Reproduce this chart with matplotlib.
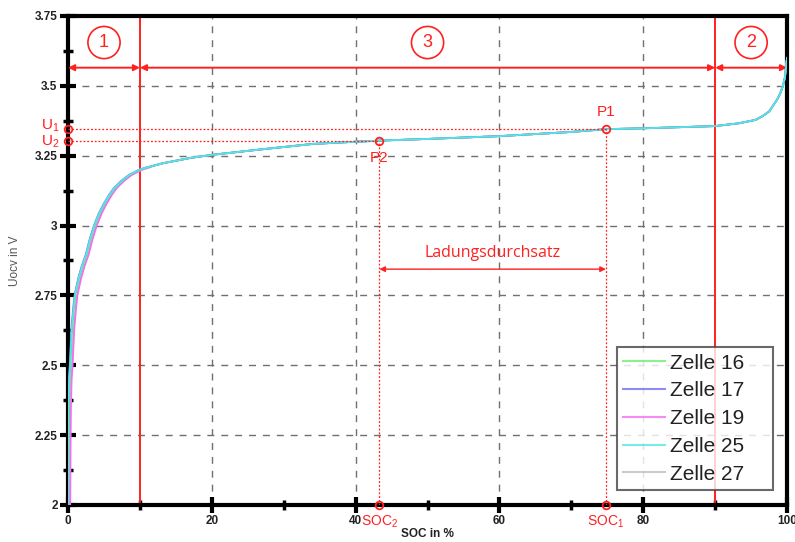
import matplotlib
matplotlib.use("Agg")
import matplotlib.pyplot as plt
from matplotlib.ticker import MultipleLocator, FixedLocator

# ---- data ----
soc = [0, 0.05, 0.1, 0.2, 0.33, 0.55, 0.8, 1.0, 1.5, 2.0, 2.55, 3.1, 3.7, 4.4,
       5.0, 5.8, 6.5, 7.5, 8.5, 10, 11, 12, 13.2, 15, 17, 20, 27, 34, 40, 43.3,
       50, 60, 70, 74.8, 80, 90, 93.3, 95.6, 96.5, 97.5, 98.6, 99.0, 99.4,
       99.7, 100]
ocv = [2.0, 2.2, 2.35, 2.45, 2.5, 2.625, 2.70, 2.75, 2.81, 2.855, 2.895, 2.95,
       3.0, 3.045, 3.075, 3.11, 3.135, 3.16, 3.18, 3.2, 3.208, 3.215, 3.223,
       3.232, 3.242, 3.253, 3.273, 3.292, 3.300, 3.304, 3.31, 3.32, 3.335,
       3.345, 3.348, 3.356, 3.366, 3.378, 3.39, 3.408, 3.45, 3.47, 3.497,
       3.53, 3.60]
cells = ["Zelle 16", "Zelle 17", "Zelle 19", "Zelle 25", "Zelle 27"]
soc_shift = [0.0, -0.1, 0.3, -0.05, 0.2]
cell_colors = ["#70ee70", "#6f6fee", "#f070f0", "#55e5e5", "#c0c0c0"]
cell_z = [4, 5, 3.5, 6, 3]

p1_soc, p1_u = 74.8, 3.345
p2_soc, p2_u = 43.3, 3.304
region_bounds = [10, 90]
region_labels = ["1", "3", "2"]
region_label_soc = [5, 50, 95]

x_ticks = [0, 20, 40, 60, 80, 100]
y_ticks = [2, 2.25, 2.5, 2.75, 3, 3.25, 3.5, 3.75]
y_tick_labels = ["2", "2.25", "2.5", "2.75", "3", "3.25", "3.5", "3.75"]

red = "#ff2020"

fig = plt.figure(figsize=(7.95, 5.42), dpi=100)
ax = fig.add_axes([0.0856, 0.0683, 0.9044, 0.9022])

for name, sh, col, z in zip(cells, soc_shift, cell_colors, cell_z):
    xs = [max(0.0, s + sh * (1 if s < 12 else 0)) for s in soc]
    ax.plot(xs, ocv, color=col, lw=1.3, label=name, zorder=z)

ax.set_xlim(0, 100)
ax.set_ylim(2, 3.75)
ax.xaxis.set_major_locator(FixedLocator(x_ticks))
ax.xaxis.set_minor_locator(MultipleLocator(10))
ax.yaxis.set_major_locator(FixedLocator(y_ticks))
ax.yaxis.set_minor_locator(MultipleLocator(0.125))
ax.set_yticklabels(y_tick_labels)
ax.grid(True, which="major", color="#707070", ls=(0, (5, 5)), lw=1.0, zorder=0)

for s in ax.spines.values():
    s.set_linewidth(3)
    s.set_color("black")
ax.tick_params(which="major", direction="inout", length=11, width=3,
               labelsize=8.5, pad=2)
ax.tick_params(which="minor", direction="inout", length=7, width=2.5)
for lab in ax.get_xticklabels() + ax.get_yticklabels():
    lab.set_fontweight("bold")
    lab.set_family("Liberation Sans")
    lab.set_color("#222222")

ax.set_xlabel("SOC in %", fontsize=8.5, fontweight="bold",
              family="Liberation Sans", color="#222222")
ax.xaxis.set_label_coords(0.5, -0.047)
ax.set_ylabel("Uocv in V", fontsize=8.5, family="Liberation Sans",
              color="#555555", labelpad=10)

# region boundaries
for b in region_bounds:
    ax.axvline(b, color=red, lw=1.4, zorder=2)
arrow_y = 3.565
edges = [0] + region_bounds + [100]
for a, b in zip(edges[:-1], edges[1:]):
    ax.annotate("", xy=(b, arrow_y), xytext=(a, arrow_y),
                arrowprops=dict(arrowstyle="<|-|>", color=red, lw=1.4,
                                mutation_scale=9, shrinkA=0, shrinkB=0))
for lab, xs in zip(region_labels, region_label_soc):
    ax.text(xs, 3.655, lab, color=red, fontsize=13, ha="center", va="center",
            family="Liberation Sans",
            bbox=dict(boxstyle="circle,pad=0.42", fc="white", ec=red, lw=1.2))

# P1 / P2 constructions
dot = dict(color=red, lw=0.9, ls=(0, (1.5, 1.5)), zorder=7)
ax.plot([0, p1_soc], [p1_u, p1_u], **dot)
ax.plot([0, p2_soc], [p2_u, p2_u], **dot)
ax.plot([p1_soc, p1_soc], [2, p1_u], **dot)
ax.plot([p2_soc, p2_soc], [2, p2_u], **dot)
mk = dict(marker="o", ms=5.5, mfc="none", mec=red, mew=1.3, ls="none",
          zorder=8, clip_on=False)
ax.plot([p1_soc, p2_soc, 0, 0, p1_soc, p2_soc],
        [p1_u, p2_u, p1_u, p2_u, 2, 2], **mk)

ax.text(p1_soc, 3.405, "P1", color=red, fontsize=11, ha="center",
        va="center", family="Liberation Sans")
ax.text(p2_soc, 3.24, "P2", color=red, fontsize=11, ha="center",
        va="center", family="Liberation Sans")
ax.text(-1.2, p1_u + 0.012, r"U$_\mathregular{1}$", color=red, fontsize=11,
        ha="right", va="center", family="Liberation Sans", clip_on=False)
ax.text(-1.2, p2_u - 0.005, r"U$_\mathregular{2}$", color=red, fontsize=11,
        ha="right", va="center", family="Liberation Sans", clip_on=False)
ax.text(p2_soc, 1.94, r"SOC$_\mathregular{2}$", color=red, fontsize=10,
        ha="center", va="center", family="Liberation Sans", clip_on=False)
ax.text(p1_soc, 1.94, r"SOC$_\mathregular{1}$", color=red, fontsize=10,
        ha="center", va="center", family="Liberation Sans", clip_on=False)

# Ladungsdurchsatz
ax.annotate("", xy=(p1_soc, 2.844), xytext=(p2_soc, 2.844),
            arrowprops=dict(arrowstyle="<|-|>", color=red, lw=1.0,
                            mutation_scale=8, shrinkA=0, shrinkB=0))
ax.text((p1_soc + p2_soc) / 2, 2.903, "Ladungsdurchsatz", color=red,
        fontsize=11.5, ha="center", va="center", family="Open Sans")

leg = ax.legend(loc="lower left", bbox_to_anchor=(0.7636, 0.031, 0.217, 0.2),
                mode="expand", frameon=True, fancybox=False,
                handlelength=2.0, handletextpad=0.25, labelspacing=0.42,
                borderpad=0.3, borderaxespad=0,
                prop={"family": "Liberation Sans", "size": 15})
leg.get_frame().set_edgecolor("#444444")
leg.get_frame().set_linewidth(1.5)
for h in leg.get_lines():
    h.set_linewidth(1.5)
    h.set_alpha(0.8)
for t in leg.get_texts():
    t.set_color("#222222")
leg.set_zorder(10)

fig.savefig("out.png", dpi=100)
